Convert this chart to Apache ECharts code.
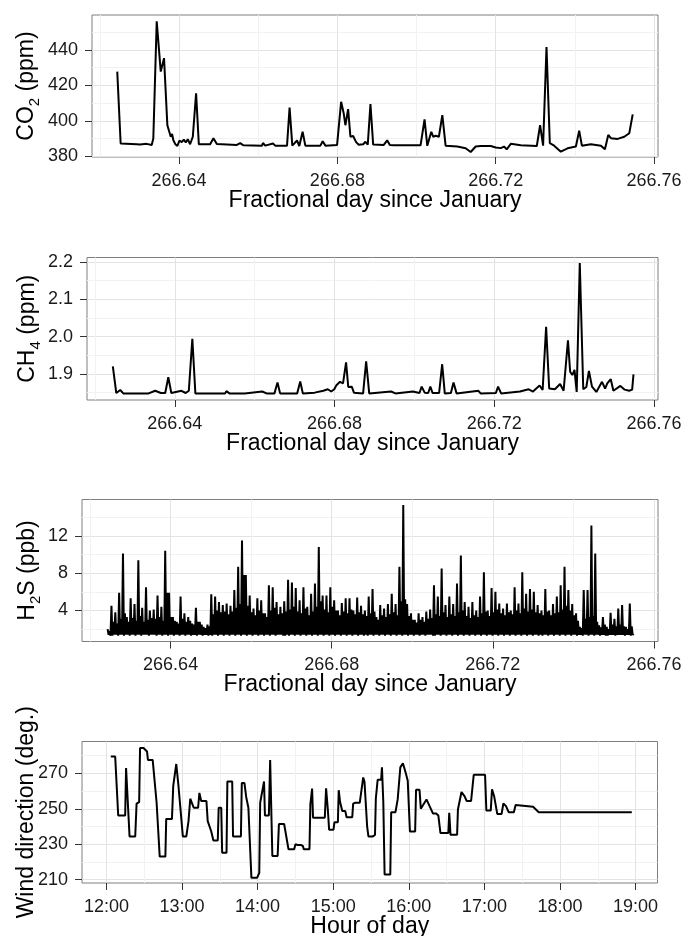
<!DOCTYPE html>
<html><head><meta charset="utf-8">
<script src="https://cdn.jsdelivr.net/npm/echarts@6/dist/echarts.min.js"></script>
<style>html,body{margin:0;padding:0;background:#fff}#c{width:683px;height:936px}</style>
</head><body><div id="c"></div>
<script>
// ---------- data ----------
const dayTicks = [266.64, 266.68, 266.72, 266.76];
const dayMinor = [266.62, 266.66, 266.70, 266.74];
const co2Ticks = [380, 400, 420, 440];
const co2Minor = [390, 410, 430, 450];
const ch4Ticks = [1.9, 2.0, 2.1, 2.2];
const ch4Minor = [1.85, 1.95, 2.05, 2.15];
const h2sTicks = [4, 8, 12];
const h2sMinor = [2, 6, 10, 14];
const windTicks = [210, 230, 250, 270];
const windMinor = [220, 240, 260, 280];
const hourTicks = [12, 13, 14, 15, 16, 17, 18, 19];
const hourMinor = [12.5, 13.5, 14.5, 15.5, 16.5, 17.5, 18.5];

// CO2 (ppm) : [fractional day, ppm]
const co2 = [[266.62438,427.7],[266.62524,387.2],[266.62929,386.8],[266.63013,386.6],[266.63182,387.0],[266.63309,386.4],[266.63349,390.0],[266.63435,456.0],[266.63537,427.7],[266.63620,435.3],[266.63704,397.5],[266.63754,396.6],[266.63790,391.0],[266.63823,392.6],[266.63856,389.0],[266.63906,386.8],[266.63957,385.8],[266.64008,388.8],[266.64068,388.0],[266.64119,389.4],[266.64170,387.8],[266.64220,389.6],[266.64278,386.8],[266.64347,391.0],[266.64430,415.5],[266.64499,386.8],[266.64785,386.8],[266.64868,390.2],[266.64954,386.9],[266.65461,386.4],[266.65544,387.4],[266.65628,386.2],[266.66094,386.0],[266.66119,387.5],[266.66177,386.0],[266.66372,387.2],[266.66430,386.0],[266.66727,386.0],[266.66792,407.4],[266.66861,386.0],[266.66911,385.5],[266.66980,388.9],[266.67038,385.8],[266.67121,393.8],[266.67190,386.0],[266.67570,386.0],[266.67628,388.5],[266.67696,386.0],[266.67992,386.4],[266.68094,410.7],[266.68159,404.2],[266.68202,397.5],[266.68271,406.6],[266.68329,391.0],[266.68397,391.4],[266.68473,388.0],[266.68539,386.5],[266.68651,386.8],[266.68709,388.2],[266.68767,386.5],[266.68835,409.4],[266.68904,386.6],[266.69172,386.4],[266.69258,389.0],[266.69324,386.4],[266.69425,386.2],[266.70101,386.2],[266.70202,400.8],[266.70271,385.9],[266.70321,386.0],[266.70372,393.8],[266.70423,391.0],[266.70481,391.6],[266.70564,391.0],[266.70651,403.2],[266.70734,386.0],[266.71030,385.5],[266.71240,384.5],[266.71367,382.4],[266.71494,385.5],[266.71620,385.8],[266.71873,385.8],[266.72000,385.0],[266.72126,384.6],[266.72210,385.5],[266.72278,383.9],[266.72380,387.0],[266.72633,386.2],[266.73038,385.8],[266.73121,397.5],[266.73197,386.0],[266.73283,441.5],[266.73367,387.4],[266.73476,386.0],[266.73645,382.6],[266.73815,384.5],[266.74025,385.5],[266.74109,394.4],[266.74177,386.0],[266.74405,386.8],[266.74658,386.0],[266.74759,384.0],[266.74843,392.0],[266.74911,390.2],[266.75081,389.8],[266.75248,391.0],[266.75374,393.0],[266.75418,392.5],[266.75461,403.6]];

// CH4 (ppm) : [fractional day, ppm]
const ch4 = [[266.62447,1.920],[266.62534,1.849],[266.62633,1.857],[266.62709,1.848],[266.63344,1.848],[266.63508,1.855],[266.63650,1.849],[266.63759,1.849],[266.63836,1.891],[266.63912,1.849],[266.64164,1.855],[266.64273,1.849],[266.64350,1.855],[266.64394,1.850],[266.64438,1.994],[266.64514,1.848],[266.65258,1.848],[266.65291,1.854],[266.65367,1.848],[266.65750,1.848],[266.65783,1.853],[266.66188,1.853],[266.66297,1.848],[266.66494,1.848],[266.66571,1.877],[266.66636,1.848],[266.67063,1.848],[266.67140,1.880],[266.67205,1.848],[266.67500,1.850],[266.67719,1.855],[266.67829,1.859],[266.67916,1.853],[266.67993,1.859],[266.68047,1.870],[266.68135,1.879],[266.68212,1.875],[266.68288,1.931],[266.68343,1.865],[266.68376,1.861],[266.68430,1.866],[266.68485,1.850],[266.68715,1.848],[266.68791,1.934],[266.68868,1.848],[266.69415,1.853],[266.69524,1.848],[266.69962,1.853],[266.70126,1.849],[266.70181,1.866],[266.70257,1.850],[266.70345,1.849],[266.70399,1.866],[266.70454,1.849],[266.70618,1.849],[266.70695,1.926],[266.70760,1.848],[266.70913,1.849],[266.70979,1.877],[266.71056,1.848],[266.71603,1.855],[266.71657,1.848],[266.72040,1.849],[266.72095,1.866],[266.72171,1.848],[266.72642,1.853],[266.72861,1.859],[266.72970,1.853],[266.73134,1.869],[266.73211,1.857],[266.73298,2.026],[266.73375,1.861],[266.73517,1.859],[266.73648,1.873],[266.73736,1.855],[266.73845,1.990],[266.73900,1.906],[266.73955,1.897],[266.74009,1.911],[266.74064,1.852],[266.74141,2.197],[266.74228,1.859],[266.74305,1.865],[266.74370,1.908],[266.74447,1.866],[266.74556,1.852],[266.74698,1.879],[266.74775,1.861],[266.74830,1.875],[266.74917,1.886],[266.74983,1.855],[266.75158,1.868],[266.75267,1.858],[266.75377,1.855],[266.75453,1.858],[266.75486,1.899]];

// H2S (ppb) : evenly sampled readings between h2sStart and h2sEnd
const h2sStart = 266.62436;
const h2sEnd = 266.75495;
const h2sPpb = [
2.0,1.4,1.8,1.3, 4.5,1.3,2.8,1.4, 3.8,1.4,2.6,1.3, 5.9,1.4,3.1,1.4,
10.1,1.3,3.7,1.4, 3.3,1.4,2.8,1.3, 5.3,1.4,3.2,1.4, 4.7,1.3,2.9,1.4, 9.4,1.4,3.4,1.3,
4.3,1.4,2.8,1.4, 6.5,1.4,3.0,1.3, 4.0,1.4,3.2,1.4,
4.1,1.4,3.1,1.3, 5.6,1.4,3.3,1.4, 4.4,1.3,2.9,1.4, 10.4,1.4,5.9,1.3, 5.9,1.4,3.3,1.4,
3.3,1.3,2.9,1.4, 2.8,1.4,2.6,1.3, 5.5,1.4,3.1,1.4, 3.7,1.3,2.8,1.4, 3.3,1.4,2.9,1.3,
2.6,1.4,2.5,1.4, 4.3,1.3,2.8,1.4, 2.8,1.4,2.5,1.3, 2.25,1.4,2.1,1.4, 2.5,1.3,2.3,1.4, 5.75,1.3,3.6,1.4,
5.5,1.4,4.0,1.3, 4.9,1.4,3.8,1.4, 4.6,1.3,3.9,1.4, 4.75,1.4,3.6,1.3, 4.5,1.4,3.9,1.4,
6.2,1.3,4.3,1.4, 8.7,1.4,4.7,1.3, 11.5,1.4,7.8,1.4, 7.8,1.3,4.5,1.4, 5.6,1.4,3.8,1.3,
4.2,1.4,3.5,1.4, 5.3,1.3,4.0,1.4, 5.1,1.4,3.7,1.3, 3.7,1.4,3.3,1.4, 6.7,1.3,4.0,1.4,
6.5,1.4,4.3,1.3, 4.9,1.4,3.6,1.4, 4.4,1.4,3.7,1.3, 5.0,1.3,3.9,1.4, 7.3,1.3,4.1,1.4, 7.0,1.4,4.4,1.3, 6.4,1.4,3.9,1.4,
5.1,1.3,3.7,1.4, 6.5,1.4,4.2,1.3, 4.4,1.4,3.5,1.4, 5.8,1.3,3.9,1.4, 6.9,1.4,4.4,1.3,
10.8,1.4,5.0,1.4, 5.6,1.3,4.1,1.4, 5.6,1.4,3.8,1.3, 6.5,1.4,4.4,1.4, 5.1,1.3,4.0,1.4,
4.0,1.4,3.5,1.3, 4.8,1.4,3.9,1.4, 5.3,1.3,3.7,1.4, 5.3,1.4,4.1,1.3, 4.0,1.4,3.6,1.4,
5.4,1.3,3.8,1.4, 4.5,1.4,3.6,1.3, 4.0,1.4,3.4,1.3, 5.5,1.4,3.7,1.4, 6.3,1.3,3.9,1.4, 3.3,1.4,3.0,1.3,
4.6,1.4,3.5,1.4, 4.2,1.3,3.3,1.4, 4.7,1.4,3.6,1.3, 5.8,1.4,3.8,1.4, 4.7,1.3,3.5,1.4,
8.7,1.4,5.0,1.3, 15.3,1.4,5.2,1.4, 4.7,1.3,3.4,1.4, 3.7,1.4,3.0,1.3, 3.0,1.4,2.7,1.4,
3.7,1.3,3.0,1.4, 3.3,1.4,2.8,1.3, 3.9,1.4,3.1,1.4, 4.1,1.4,3.2,1.3, 6.7,1.3,3.6,1.4, 5.5,1.4,3.4,1.3,
8.5,1.4,3.8,1.4, 4.6,1.3,3.3,1.4, 5.5,1.4,3.6,1.3, 4.7,1.4,3.4,1.4, 6.9,1.3,3.8,1.4,
9.9,1.4,4.0,1.3, 4.9,1.4,3.4,1.4, 4.4,1.3,3.2,1.4, 4.9,1.4,3.5,1.3, 4.0,1.4,3.3,1.4,
5.5,1.3,3.7,1.4, 8.1,1.4,3.9,1.3, 4.0,1.4,3.4,1.4, 6.4,1.3,3.8,1.4, 6.0,1.4,4.1,1.3,
4.75,1.4,3.7,1.4, 4.2,1.3,3.5,1.4, 4.75,1.4,3.8,1.3, 4.0,1.4,3.6,1.4, 6.5,1.3,4.0,1.4,
4.75,1.4,3.7,1.3, 8.1,1.4,4.2,1.4, 5.8,1.3,3.9,1.4, 6.3,1.4,4.1,1.3, 6.0,1.4,3.8,1.4, 4.6,1.3,3.7,1.4,
4.0,1.3,3.5,1.4, 6.3,1.4,3.9,1.3, 4.0,1.4,3.5,1.4, 4.7,1.3,3.7,1.4, 5.5,1.4,3.8,1.3,
6.7,1.4,4.1,1.4, 8.7,1.3,4.5,1.4, 6.2,1.4,4.0,1.3, 4.7,1.4,3.5,1.4, 3.7,1.3,2.9,1.4,
2.25,1.4,2.1,1.3, 6.2,1.4,3.1,1.4, 6.2,1.3,3.3,1.4, 13.1,1.4,3.4,1.3, 10.1,1.4,2.8,1.4,
2.4,1.3,2.2,1.4, 3.3,1.4,2.5,1.3, 2.25,1.3,2.0,1.4,
3.75,1.4,2.5,1.4, 3.1,1.3,2.3,1.4, 4.2,1.4,2.5,1.4,
4.6,1.4,2.3,1.3, 2.25,1.4,2.0,1.4, 4.75,1.3,2.3,1.4, 1.5];

// Wind direction (deg.) : [hour of day, degrees]
const wind = [[12.058,279.5],[12.116,279.5],[12.156,246.2],[12.248,246.2],[12.260,273],[12.306,234.4],[12.381,234.4],[12.399,252.9],[12.433,253.8],[12.445,284.3],[12.491,284.3],[12.508,285.4],[12.537,282.4],[12.549,277.6],[12.612,277.6],[12.664,253.4],[12.705,223],[12.780,223],[12.791,244.3],[12.867,244.3],[12.884,263],[12.924,275.3],[12.953,263],[13.011,234.4],[13.057,234.4],[13.086,243],[13.109,255.7],[13.138,252.5],[13.155,250.6],[13.213,250.6],[13.230,259],[13.254,254.4],[13.323,254.4],[13.340,243],[13.387,237.2],[13.404,237.6],[13.415,232.1],[13.473,232.1],[13.485,250.6],[13.519,250.6],[13.531,225.2],[13.589,225.2],[13.600,265.4],[13.664,265.4],[13.675,234.4],[13.779,234.4],[13.791,264.5],[13.826,264.5],[13.849,256.7],[13.878,250.6],[13.901,250.6],[13.918,211],[13.993,211],[14.022,213.8],[14.034,253.4],[14.085,265.4],[14.097,246.2],[14.149,246.2],[14.166,277.6],[14.195,223.3],[14.265,223.3],[14.282,241.4],[14.351,241.4],[14.409,227.1],[14.484,227.1],[14.501,230],[14.530,229.6],[14.571,229.6],[14.599,229],[14.611,227.1],[14.686,227.1],[14.698,252.5],[14.721,261.4],[14.733,244.9],[14.889,244.9],[14.906,261.6],[14.929,249.6],[14.946,238.2],[15.004,238.2],[15.016,242.4],[15.062,242.4],[15.073,260.5],[15.091,253.8],[15.120,248.7],[15.160,248.7],[15.177,245.2],[15.252,245.2],[15.264,252.9],[15.293,253.4],[15.351,253.4],[15.397,267.7],[15.414,265.2],[15.449,240],[15.466,234.4],[15.524,234.4],[15.553,235.3],[15.564,255.7],[15.588,266.4],[15.634,266.4],[15.645,273.4],[15.663,253.4],[15.680,212.9],[15.755,212.9],[15.767,248.1],[15.824,248.1],[15.853,255.3],[15.888,273.4],[15.905,273.4],[15.922,275.7],[15.957,270.6],[15.986,265.8],[16.015,237.2],[16.084,237.2],[16.096,260.7],[16.142,260.7],[16.159,250],[16.234,255.3],[16.275,251.5],[16.321,247.3],[16.362,247.3],[16.391,246.2],[16.419,236.3],[16.523,236.3],[16.535,247.7],[16.552,235.3],[16.639,235.3],[16.650,249.6],[16.697,259.5],[16.737,257.2],[16.766,254.4],[16.824,254.4],[16.859,269.2],[17.009,269.2],[17.026,249.0],[17.084,249.0],[17.101,261.0],[17.130,256.9],[17.170,247.1],[17.228,247.1],[17.251,253],[17.286,251.5],[17.321,248.1],[17.390,248.1],[17.413,252.1],[17.430,251.1],[17.644,251.1],[17.719,248.1],[18.950,248.1]];

// ---------- chart ----------
const FONT = "'Liberation Sans', Arial, Helvetica, sans-serif";
const h2s = h2sPpb.map((v, i) => [h2sStart + i * (h2sEnd - h2sStart) / (h2sPpb.length - 1), v]);

const panels = [
  {grid:{left:92, top:15, width:566, height:142}, x:[266.618,266.761], y:[379.6,459.6],
   xt:dayTicks, xm:dayMinor, yt:co2Ticks, ym:co2Minor, xname:'Fractional day since January',
   yname:'{a|CO}{s|2}{a| (ppm)}', ygap:50, yfmt:v=>String(v), xfmt:v=>v.toFixed(2), data:co2, lw:2},
  {grid:{left:87, top:257.5, width:571, height:142.5}, x:[266.618,266.761], y:[1.8303,2.2115],
   xt:dayTicks, xm:dayMinor, yt:ch4Ticks, ym:ch4Minor, xname:'Fractional day since January',
   yname:'{a|CH}{s|4}{a| (ppm)}', ygap:44, yfmt:v=>v.toFixed(1), xfmt:v=>v.toFixed(2), data:ch4, lw:2},
  {grid:{left:82, top:499.5, width:576, height:142}, x:[266.618,266.761], y:[0.68,15.9],
   xt:dayTicks, xm:dayMinor, yt:h2sTicks, ym:h2sMinor, xname:'Fractional day since January',
   yname:'{a|H}{s|2}{a|S (ppb)}', ygap:39, yfmt:v=>String(v), xfmt:v=>v.toFixed(2), data:h2s, lw:2},
  {grid:{left:82, top:741.5, width:575.5, height:141.5}, x:[11.677,19.29], y:[208.1,288],
   xt:hourTicks, xm:hourMinor, yt:windTicks, ym:windMinor, xname:'Hour of day',
   yname:'{a|Wind direction (deg.)}', ygap:40, yfmt:v=>String(v), xfmt:v=>Math.round(v)+':00', data:wind, lw:2}
];

const grid = [], xAxis = [], yAxis = [], series = [];
const tickStyle = {color:'#333', width:1};
panels.forEach((p, i) => {
  grid.push(Object.assign({show:true, borderColor:'#7f7f7f', borderWidth:1, backgroundColor:'transparent',
    containLabel:false, outerBoundsMode:'none'}, p.grid));
  // minor grid axes
  xAxis.push({type:'value', gridIndex:i, min:p.x[0], max:p.x[1], position:'top',
    axisLine:{show:false}, axisTick:{show:false, customValues:p.xm}, axisLabel:{show:false, customValues:p.xm},
    splitLine:{show:true, lineStyle:{color:'#f2f2f2', width:1}}});
  yAxis.push({type:'value', gridIndex:i, min:p.y[0], max:p.y[1], position:'right',
    axisLine:{show:false}, axisTick:{show:false, customValues:p.ym}, axisLabel:{show:false, customValues:p.ym},
    splitLine:{show:true, lineStyle:{color:'#f2f2f2', width:1}}});
  // major axes
  xAxis.push({type:'value', gridIndex:i, min:p.x[0], max:p.x[1], position:'bottom',
    axisLine:{show:false},
    axisTick:{show:true, length:7, lineStyle:tickStyle, customValues:p.xt},
    axisLabel:{show:true, customValues:p.xt, margin:15, fontSize:18, color:'#1a1a1a', fontFamily:FONT, formatter:p.xfmt},
    splitLine:{show:true, lineStyle:{color:'#e3e3e3', width:1}},
    name:p.xname, nameLocation:'middle', nameGap:32, nameMoveOverlap:false,
    nameTextStyle:{fontSize:23, color:'#000', fontFamily:FONT}});
  yAxis.push({type:'value', gridIndex:i, min:p.y[0], max:p.y[1], position:'left',
    axisLine:{show:false},
    axisTick:{show:true, length:7, lineStyle:tickStyle, customValues:p.yt},
    axisLabel:{show:true, customValues:p.yt, margin:14, fontSize:18, color:'#1a1a1a', fontFamily:FONT, formatter:p.yfmt},
    splitLine:{show:true, lineStyle:{color:'#e3e3e3', width:1}},
    name:p.yname, nameLocation:'middle', nameGap:p.ygap, nameRotate:90, nameMoveOverlap:false,
    nameTextStyle:{fontSize:23, color:'#000', fontFamily:FONT,
      rich:{a:{fontSize:23, lineHeight:30, fontFamily:FONT, color:'#000'},
            s:{fontSize:15, lineHeight:15, verticalAlign:'bottom', fontFamily:FONT, color:'#000'}}}});
  series.push({type:'line', xAxisIndex:2*i+1, yAxisIndex:2*i+1, data:p.data, showSymbol:false, symbol:'none',
    lineStyle:{color:'#000', width:p.lw}, itemStyle:{color:'#000'}, silent:true, z:5, clip:true});
});

const chart = echarts.init(document.getElementById('c'), null, {renderer:'canvas'});
chart.setOption({animation:false, backgroundColor:'#fff', grid, xAxis, yAxis, series});
</script></body></html>
